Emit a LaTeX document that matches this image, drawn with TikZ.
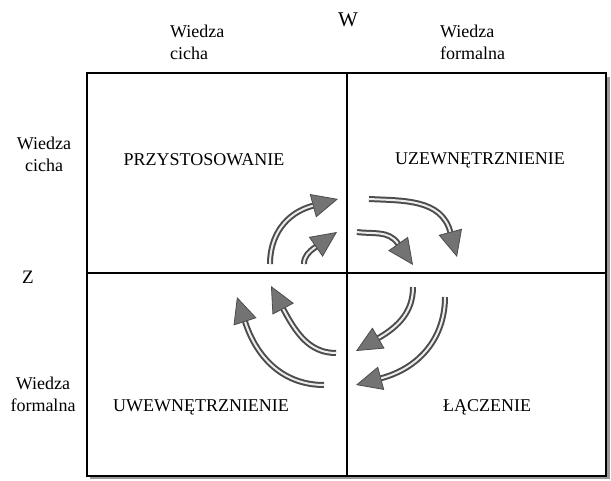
\documentclass[tikz,border=0pt]{standalone}
\usepackage{fontspec}
\setmainfont{Liberation Serif}
\usetikzlibrary{arrows.meta,calc}
\begin{document}
\begin{tikzpicture}[x=1pt,y=1pt]
		% Styles
		\tikzstyle{ramka}=[draw=black,line width=1.6pt]
		\tikzstyle{cien}=[draw=black!40,line width=2.5pt]
		\tikzstyle{etykieta}=[font=\fontsize{18}{22}\selectfont,align=left,inner sep=0pt]
		\tikzstyle{etykietas}=[font=\fontsize{18}{22}\selectfont,align=center,inner sep=0pt]
		\tikzstyle{pole}=[font=\fontsize{18}{22}\selectfont,inner sep=0pt]
		\tikzstyle{obieg}=[draw=black!70,double=white!85!gray,double distance=2pt,line width=2pt,
			-{Triangle[length=26pt,width=24pt,fill=black!55,color=black!70,line width=0.8pt]}]
		\useasboundingbox (0,0) rectangle (611,481);
		% Ramka i cien
		\draw[cien] (90,3.5) -- (608.5,3.5) -- (608.5,404);
		\draw[ramka] (87,5) rectangle (606,408);
		\draw[ramka] (347,5) -- (347,408);
		\draw[ramka] (87,208) -- (606,208);
		% Opisy osi
		\node[pole,font=\fontsize{21}{24}\selectfont] (W) at (348,461) {W};
		\node[pole,font=\fontsize{19}{22}\selectfont] (Z) at (28,204) {Z};
		\node[etykieta,anchor=north west] (Wgc) at (170,456) {Wiedza\\cicha};
		\node[etykieta,anchor=north west] (Wgf) at (440,456) {Wiedza\\formalna};
		\node[etykietas] (Wlc) at (44,327) {Wiedza\\cicha};
		\node[etykietas] (Wlf) at (43,87) {Wiedza\\formalna};
		% Pola
		\node[pole] (Przyst) at (204,321) {PRZYSTOSOWANIE};
		\node[pole] (Uzew) at (480,321) {UZEWNĘTRZNIENIE};
		\node[pole] (Uwew) at (201,74) {UWEWNĘTRZNIENIE};
		\node[pole] (Lacz) at (487,74) {ŁĄCZENIE};
		% Punkty strzalek
		\coordinate (a1) at (270,217); \coordinate (b1) at (338,282);
		\coordinate (a2) at (304,217); \coordinate (b2) at (337,249);
		\coordinate (a3) at (357,249); \coordinate (b3) at (413,216);
		\coordinate (a4) at (369,282); \coordinate (b4) at (457,224);
		\coordinate (a5) at (413,194); \coordinate (b5) at (356,130);
		\coordinate (a6) at (445,184); \coordinate (b6) at (356,96);
		\coordinate (a7) at (336,128); \coordinate (b7) at (271,195);
		\coordinate (a8) at (324,96); \coordinate (b8) at (237,184);
		% Strzalki
		\draw[obieg] (a1) to[out=90,in=195] ($(b1)+(195:26)$) -- (b1);
		\draw[obieg] (a2) to[out=90,in=215] ($(b2)+(215:26)$) -- (b2);
		\draw[obieg] (a3) to[out=-8,in=125] ($(b3)+(125:26)$) -- (b3);
		\draw[obieg] (a4) to[out=-3,in=105] ($(b4)+(105:26)$) -- (b4);
		\draw[obieg] (a5) to[out=-90,in=30] ($(b5)+(30:26)$) -- (b5);
		\draw[obieg] (a6) to[out=-90,in=15] ($(b6)+(15:26)$) -- (b6);
		\draw[obieg] (a7) to[out=180,in=-62] ($(b7)+(-62:26)$) -- (b7);
		\draw[obieg] (a8) to[out=180,in=-72] ($(b8)+(-72:26)$) -- (b8);
\end{tikzpicture}
\end{document}
